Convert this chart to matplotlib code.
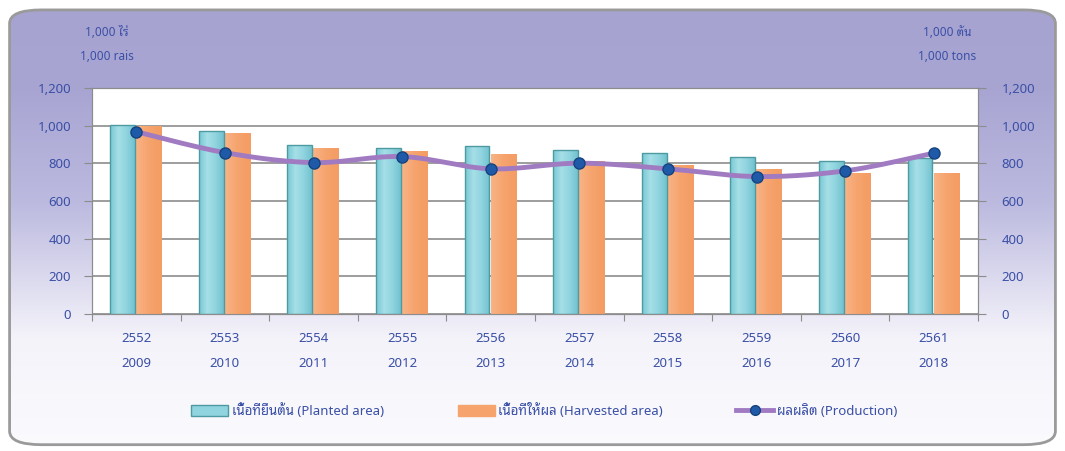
import numpy as np
import matplotlib
matplotlib.use("Agg")
import matplotlib.pyplot as plt
from matplotlib.colors import LinearSegmentedColormap
from matplotlib.patches import FancyBboxPatch, Patch
from matplotlib.lines import Line2D

# data
years_be = ["2552", "2553", "2554", "2555", "2556", "2557", "2558", "2559", "2560", "2561"]
years_ad = ["2009", "2010", "2011", "2012", "2013", "2014", "2015", "2016", "2017", "2018"]
planted = [1003, 970, 898, 880, 892, 871, 853, 836, 813, 828]
harvested = [1000, 963, 882, 866, 848, 813, 792, 769, 748, 751]
production = [968, 857, 804, 836, 771, 801, 771, 730, 760, 854]

txt_blue = "#3a4fa6"
grid_c = "#8c8c8c"
plt.rcParams["font.family"] = ["Noto Sans", "Noto Sans Thai Looped", "DejaVu Sans"]

fig = plt.figure(figsize=(10.65, 4.51), dpi=100)

# background rounded panel with a vertical gradient
bg = fig.add_axes([0, 0, 1, 1], zorder=-10)
bg.set_axis_off()
bg.set_xlim(0, 1)
bg.set_ylim(0, 1)
grad = np.linspace(0, 1, 256).reshape(-1, 1)
bg_cmap = LinearSegmentedColormap.from_list(
    "bg", [(0.0, "#fbfbfe"), (0.25, "#f4f3fa"), (0.55, "#bcbadf"), (0.8, "#a8a5d3"), (1.0, "#a6a3d1")])
im = bg.imshow(grad, cmap=bg_cmap, extent=[0, 1, 0, 1], aspect="auto", origin="lower")
panel = FancyBboxPatch((0.009, 0.014), 0.982, 0.964, boxstyle="round,pad=0,rounding_size=0.03",
                       transform=bg.transAxes, facecolor="none", edgecolor="#9a9a9a", linewidth=2)
bg.add_patch(panel)
im.set_clip_path(panel)

ax = fig.add_axes([0.0864, 0.3038, 0.832, 0.501])
x = np.arange(len(years_be))
teal_cmap = LinearSegmentedColormap.from_list("teal", ["#78c8d5", "#a6dfe7", "#8fd4df", "#72c2cf"])
orng_cmap = LinearSegmentedColormap.from_list("orng", ["#f8b386", "#f6a36d", "#f49c63"])
hgrad = np.linspace(0, 1, 64).reshape(1, -1)

b1 = ax.bar(x - 0.156, planted, width=0.28, color="none", edgecolor="#4d9aa1", linewidth=1, zorder=4)
b2 = ax.bar(x + 0.144, harvested, width=0.29, color="none", edgecolor="none", zorder=4)
for bars, cm in [(b1, teal_cmap), (b2, orng_cmap)]:
    for r in bars:
        x0, w, h = r.get_x(), r.get_width(), r.get_height()
        g = ax.imshow(hgrad, cmap=cm, extent=[x0, x0 + w, 0, h], aspect="auto", zorder=3)
        g.set_clip_path(r)

ax.set_xlim(-0.5, 9.5)
ax.set_ylim(0, 1200)
ax.set_yticks(range(0, 1201, 200))
ax.set_yticklabels([f"{v:,}" for v in range(0, 1201, 200)], color=txt_blue, fontsize=9.5)
ax.yaxis.grid(True, color=grid_c, linewidth=1.2, zorder=0)
ax.set_axisbelow(True)
ax.set_xticks(np.arange(-0.5, 10, 1))
ax.set_xticklabels([])
ax.tick_params(axis="x", length=5, color=grid_c, direction="out")
ax.tick_params(axis="y", length=6, color=grid_c, pad=9)
for s in ax.spines.values():
    s.set_color(grid_c)
for i in x:
    ax.text(i, -130, years_be[i], ha="center", va="center", color=txt_blue, fontsize=9.5)
    ax.text(i, -265, years_ad[i], ha="center", va="center", color=txt_blue, fontsize=9.5)

ax2 = ax.twinx()
ax2.set_ylim(0, 1200)
ax2.set_yticks(range(0, 1201, 200))
ax2.set_yticklabels([f"{v:,}" for v in range(0, 1201, 200)], color=txt_blue, fontsize=9.5)
ax2.tick_params(axis="y", length=6, color=grid_c, pad=11)
for s in ax2.spines.values():
    s.set_color(grid_c)

# smoothed production line (catmull-rom through the points)
P = np.column_stack([x, np.array(production, dtype=float)])
P = np.vstack([P[0], P, P[-1]])
pts = []
for k in range(1, len(P) - 2):
    p0, p1, p2, p3 = P[k - 1], P[k], P[k + 1], P[k + 2]
    for u in np.linspace(0, 1, 30):
        pts.append(0.5 * ((2 * p1) + (-p0 + p2) * u + (2 * p0 - 5 * p1 + 4 * p2 - p3) * u ** 2
                          + (-p0 + 3 * p1 - 3 * p2 + p3) * u ** 3))
pts = np.array(pts)
ax2.plot(pts[:, 0], pts[:, 1], color="#a07bc2", linewidth=3.5, zorder=4)
ax2.plot(x, production, "o", color="#1e5aa8", markersize=8, markeredgecolor="#16427e", zorder=5)

# unit labels
fig.text(0.1005, 0.927, "1,000 ไร่", color=txt_blue, fontsize=8.5, ha="center", va="center")
fig.text(0.1005, 0.874, "1,000 rais", color=txt_blue, fontsize=8.5, ha="center", va="center")
fig.text(0.889, 0.927, "1,000 ตัน", color=txt_blue, fontsize=8.5, ha="center", va="center")
fig.text(0.889, 0.874, "1,000 tons", color=txt_blue, fontsize=8.5, ha="center", va="center")

h1 = Patch(facecolor="#8fd4df", edgecolor="#4d9aa1")
h2 = Patch(facecolor="#f6a36d", edgecolor="#f6a36d")
h3 = Line2D([], [], color="#a07bc2", linewidth=3.5, marker="o", markersize=7,
            markerfacecolor="#1e5aa8", markeredgecolor="#16427e")
fig.legend([h1, h2, h3],
           ["เนื้อที่ยืนต้น (Planted area)", "เนื้อที่ให้ผล (Harvested area)", "ผลผลิต (Production)"],
           loc="center", bbox_to_anchor=(0.511, 0.09), ncol=3, frameon=False, fontsize=9.5,
           labelcolor=txt_blue, handlelength=2.8, handleheight=0.9, columnspacing=5.6,
           handletextpad=0.25)

fig.savefig("out.png", dpi=100)
